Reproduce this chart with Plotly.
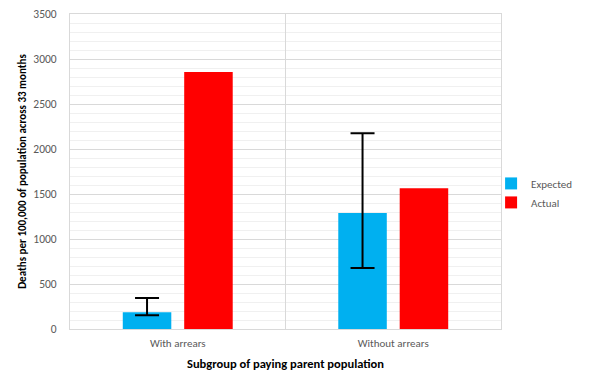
import plotly.graph_objects as go

categories = ["With arrears", "Without arrears"]
expected = [185, 1290]
expected_err_plus = [160, 885]
expected_err_minus = [33, 612]
actual = [2855, 1563]
y_ticks = [0, 500, 1000, 1500, 2000, 2500, 3000, 3500]

FONT = "Carlito, 'Liberation Sans Narrow', 'Liberation Sans', Arial, sans-serif"

fig = go.Figure()
fig.add_trace(go.Bar(
    name="Expected", x=categories, y=expected, marker_color="#00B0F0",
    marker_line_width=0,
    error_y=dict(type="data", symmetric=False, array=expected_err_plus,
                 arrayminus=expected_err_minus, color="#000000",
                 thickness=2, width=12),
))
fig.add_trace(go.Bar(
    name="Actual", x=categories, y=actual, marker_color="#FF0000",
    marker_line_width=0,
))

# page body has an 8px default margin, so the figure is sized to fit the window
fig.update_layout(
    width=585, height=369,
    margin=dict(l=62, r=92, t=6, b=48, autoexpand=False),
    paper_bgcolor="white", plot_bgcolor="white",
    barmode="group", bargap=0.43, bargroupgap=0.21,
    font=dict(family=FONT, size=11, color="#595959"),
    legend=dict(x=0.977, y=0.432, yanchor="middle", xanchor="left",
                bgcolor="rgba(0,0,0,0)",
                font=dict(size=11, color="#595959"), itemwidth=30),
    xaxis=dict(
        automargin=False,
        tickson="boundaries", showgrid=True, gridcolor="#d9d9d9", gridwidth=1,
        ticks="", showline=True, linecolor="#d9d9d9", mirror=True,
        ticklabelstandoff=4,
        tickfont=dict(size=11, color="#595959"),
        title=dict(text="<b>Subgroup of paying parent population</b>",
                   font=dict(size=12.5, color="#000000"), standoff=10),
    ),
    yaxis=dict(
        automargin=False,
        range=[0, 3500], tickvals=y_ticks, showgrid=True, gridcolor="#d9d9d9",
        gridwidth=1, showline=True, linecolor="#d9d9d9", mirror=True,
        zeroline=False, ticks="", ticklabelstandoff=10,
        ticklabeloverflow="allow",
        minor=dict(dtick=100, showgrid=True, gridcolor="#f0f0f0", gridwidth=1),
        tickfont=dict(size=11.5, color="#595959"),
        title=dict(text="<b>Deaths per 100,000 of population across 33 months</b>",
                   font=dict(size=11, color="#000000"), standoff=4),
    ),
)

fig.write_html("out.html")
